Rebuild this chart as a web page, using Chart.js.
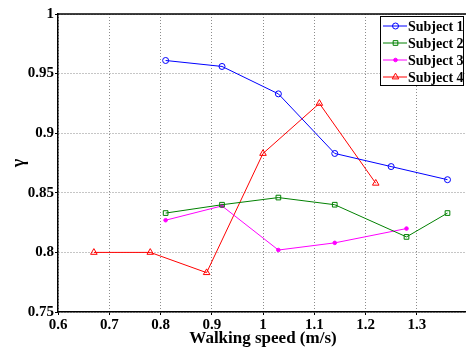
<!DOCTYPE html>
<html>
<head>
<meta charset="utf-8">
<script src="https://cdn.jsdelivr.net/npm/chart.js@4/dist/chart.umd.min.js"></script>
<style>
  html, body { margin: 0; padding: 0; background: #fff; overflow: hidden; }
  #wrap { width: 476px; height: 354px; }
</style>
</head>
<body>
<div id="wrap"><canvas id="c" width="476" height="354"></canvas></div>
<script>
// Walking speed (m/s) and gamma per subject
const speed1 = [0.81, 0.92, 1.03, 1.14, 1.25, 1.36];
const gamma1 = [0.961, 0.956, 0.933, 0.883, 0.872, 0.861];
const speed2 = [0.81, 0.92, 1.03, 1.14, 1.28, 1.36];
const gamma2 = [0.833, 0.840, 0.846, 0.840, 0.813, 0.833];
const speed3 = [0.81, 0.92, 1.03, 1.14, 1.28];
const gamma3 = [0.827, 0.839, 0.802, 0.808, 0.820];
const speed4 = [0.67, 0.78, 0.89, 1.00, 1.11, 1.22];
const gamma4 = [0.800, 0.800, 0.783, 0.883, 0.925, 0.858];
const seriesNames = ['Subject 1', 'Subject 2', 'Subject 3', 'Subject 4'];
const xTicks = [0.6, 0.7, 0.8, 0.9, 1.0, 1.1, 1.2, 1.3];
const yTicks = [0.75, 0.8, 0.85, 0.9, 0.95, 1.0];

const FONT = '"Liberation Serif", "Times New Roman", serif';
const pairs = (xs, ys) => xs.map((x, i) => ({ x, y: ys[i] }));
const fmt = v => String(Number(v.toFixed(2)));

const styles = [
  { color: '#0000ff', pointStyle: 'circle', radius: 3, fill: false },
  { color: '#008000', pointStyle: 'rect', radius: 3.3, fill: false },
  { color: '#ff00ff', pointStyle: 'circle', radius: 1.8, fill: true },
  { color: '#ff0000', pointStyle: 'triangle', radius: 3.8, fill: false }
];
const seriesData = [pairs(speed1, gamma1), pairs(speed2, gamma2), pairs(speed3, gamma3), pairs(speed4, gamma4)];

const datasets = seriesNames.map((name, i) => ({
  label: name,
  data: seriesData[i],
  borderColor: styles[i].color,
  backgroundColor: styles[i].fill ? styles[i].color : '#ffffff',
  pointBorderColor: styles[i].color,
  pointBackgroundColor: styles[i].fill ? styles[i].color : 'rgba(255,255,255,0)',
  pointStyle: styles[i].pointStyle,
  pointRadius: styles[i].radius,
  pointBorderWidth: 1,
  borderWidth: 1,
  tension: 0,
  fill: false
}));

// Frame along the top of the plot and a boxed legend in the upper right
const framePlugin = {
  id: 'frameAndLegend',
  afterDraw(chart) {
    const ctx = chart.ctx;
    const a = chart.chartArea;
    ctx.save();
    ctx.strokeStyle = '#000';
    ctx.lineWidth = 1.5;
    ctx.beginPath();
    ctx.moveTo(a.left, a.top);
    ctx.lineTo(a.right, a.top);
    ctx.stroke();

    const bx = 380.5, by = 16.5, bw = 83, bh = 69;
    ctx.fillStyle = '#fff';
    ctx.fillRect(bx, by, bw, bh);
    ctx.lineWidth = 1;
    ctx.strokeRect(bx, by, bw, bh);

    ctx.font = 'bold 14px ' + FONT;
    ctx.textBaseline = 'middle';
    ctx.textAlign = 'left';
    chart.data.datasets.forEach((ds, i) => {
      const y = 26 + i * 17;
      ctx.strokeStyle = ds.borderColor;
      ctx.lineWidth = 1;
      ctx.beginPath();
      ctx.moveTo(383, y);
      ctx.lineTo(407, y);
      ctx.stroke();
      ctx.fillStyle = ds.pointBackgroundColor;
      ctx.strokeStyle = ds.pointBorderColor;
      Chart.helpers.drawPoint(ctx, { pointStyle: ds.pointStyle, radius: ds.pointRadius, borderWidth: 1, rotation: 0 }, 395.5, y);
      ctx.fillStyle = '#000';
      ctx.fillText(ds.label, 408, y + 1);
    });
    ctx.restore();
  }
};

const gridOpts = {
  color: '#8c8c8c',
  lineWidth: 1,
  tickLength: 3,
  tickColor: '#000',
  tickBorderDash: []
};
const borderOpts = { display: true, color: '#000', width: 1.5, dash: [1, 2] };

new Chart(document.getElementById('c'), {
  type: 'line',
  data: { datasets },
  plugins: [framePlugin],
  options: {
    responsive: false,
    animation: false,
    devicePixelRatio: 1,
    layout: { padding: { left: 0, top: 14, right: 8, bottom: 0 } },
    plugins: { legend: { display: false }, tooltip: { enabled: false } },
    scales: {
      x: {
        type: 'linear',
        min: 0.6,
        max: 1.4,
        afterBuildTicks: s => { s.ticks = xTicks.map(v => ({ value: v })); },
        afterFit: s => { s.height = 42; },
        ticks: {
          color: '#000',
          padding: 1,
          maxRotation: 0,
          font: { family: FONT, size: 15, weight: 'bold' },
          callback: v => fmt(v)
        },
        grid: gridOpts,
        border: borderOpts,
        title: {
          display: true,
          text: 'Walking speed (m/s)',
          color: '#000',
          font: { family: FONT, size: 17, weight: 'bold' },
          padding: { top: 0, bottom: 5 }
        }
      },
      y: {
        type: 'linear',
        min: 0.75,
        max: 1.0,
        afterBuildTicks: s => { s.ticks = yTicks.map(v => ({ value: v })); },
        afterFit: s => { s.width = 58; },
        ticks: {
          color: '#000',
          padding: 1,
          font: { family: FONT, size: 15, weight: 'bold' },
          callback: v => fmt(v)
        },
        grid: gridOpts,
        border: borderOpts,
        title: {
          display: true,
          text: 'γ',
          color: '#000',
          font: { family: FONT, size: 18, weight: 'bold' },
          padding: { top: 9, bottom: 0 }
        }
      }
    }
  }
});
</script>
</body>
</html>
